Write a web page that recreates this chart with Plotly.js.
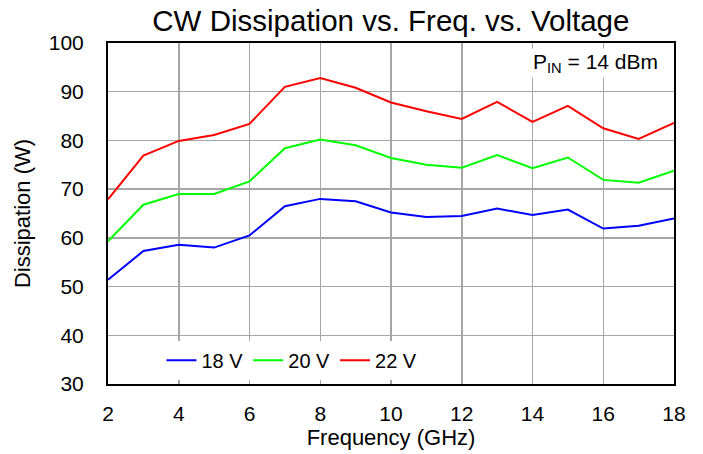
<!DOCTYPE html>
<html>
<head>
<meta charset="utf-8">
<script src="https://cdn.plot.ly/plotly-3.0.1.min.js"></script>
<style>html,body{margin:0;padding:0;background:#fff;}#chart{width:703px;height:454px;}</style>
</head>
<body>
<div id="chart"></div>
<script>
const freq = [2,3,4,5,6,7,8,9,10,11,12,13,14,15,16,17,18];
const v18 = [51.4,57.3,58.6,58.0,60.5,66.5,68.0,67.5,65.2,64.3,64.5,66.0,64.7,65.8,61.9,62.5,64.0];
const v20 = [59.3,66.8,69.0,69.0,71.6,78.4,80.2,79.0,76.4,75.0,74.4,77.0,74.3,76.5,71.9,71.3,73.8];
const v22 = [67.9,76.9,79.9,81.1,83.4,91.0,92.8,90.8,87.8,86.0,84.4,87.9,83.8,87.1,82.5,80.3,83.6];
const names = ["18 V","20 V","22 V"];
const colors = ["#0000ff","#00ff00","#ff0000"];
const series = [v18, v20, v22];

const font = "Liberation Sans, Arial, sans-serif";
const traces = series.map((s,i)=>({
  x: freq, y: s, name: names[i], type: "scatter", mode: "lines",
  line: {color: colors[i], width: 2}
}));

const layout = {
  width: 703, height: 454,
  margin: {l:108, r:29, t:43, b:70},
  paper_bgcolor: "#fff", plot_bgcolor: "#fff",
  font: {family: font, color: "#000", size: 21},
  title: {text: "CW Dissipation vs. Freq. vs. Voltage", font: {size: 29.5, family: font, color:"#000"}, x: 0.556, xanchor: "center", y: 0.955, yanchor: "middle"},
  xaxis: {
    range: [2,18], dtick: 2, tick0: 2,
    title: {text: "Frequency (GHz)", font: {size: 22}, standoff: 4},
    showgrid: true, gridcolor: "#a6a6a6", gridwidth: 1.5,
    showline: true, linecolor: "#000", linewidth: 2, mirror: true,
    zeroline: false, ticks: "", tickfont: {size: 21}, ticklabelstandoff: 10,
    automargin: false
  },
  yaxis: {
    range: [30,100], dtick: 10,
    title: {text: "Dissipation (W)", font: {size: 22}, standoff: 12},
    showgrid: true, gridcolor: "#a6a6a6", gridwidth: 1.5,
    showline: true, linecolor: "#000", linewidth: 2, mirror: true,
    zeroline: false, ticks: "", tickfont: {size: 21}, ticklabelstandoff: 18,
    automargin: false
  },
  showlegend: true,
  legend: {
    orientation: "h", x: 0.325, xanchor: "center", y: 0.07, yanchor: "middle",
    bgcolor: "#fff", font: {size: 20}, itemwidth: 30, tracegroupgap: 0
  },
  annotations: [{
    xref: "paper", yref: "paper", x: 0.975, y: 0.985, xanchor: "right", yanchor: "top",
    text: "P<sub>IN</sub> = 14 dBm", showarrow: false, bgcolor: "#fff",
    font: {size: 21, family: font, color: "#000"}
  }]
};

Plotly.newPlot("chart", traces, layout, {displayModeBar: false, staticPlot: true});
</script>
</body>
</html>
